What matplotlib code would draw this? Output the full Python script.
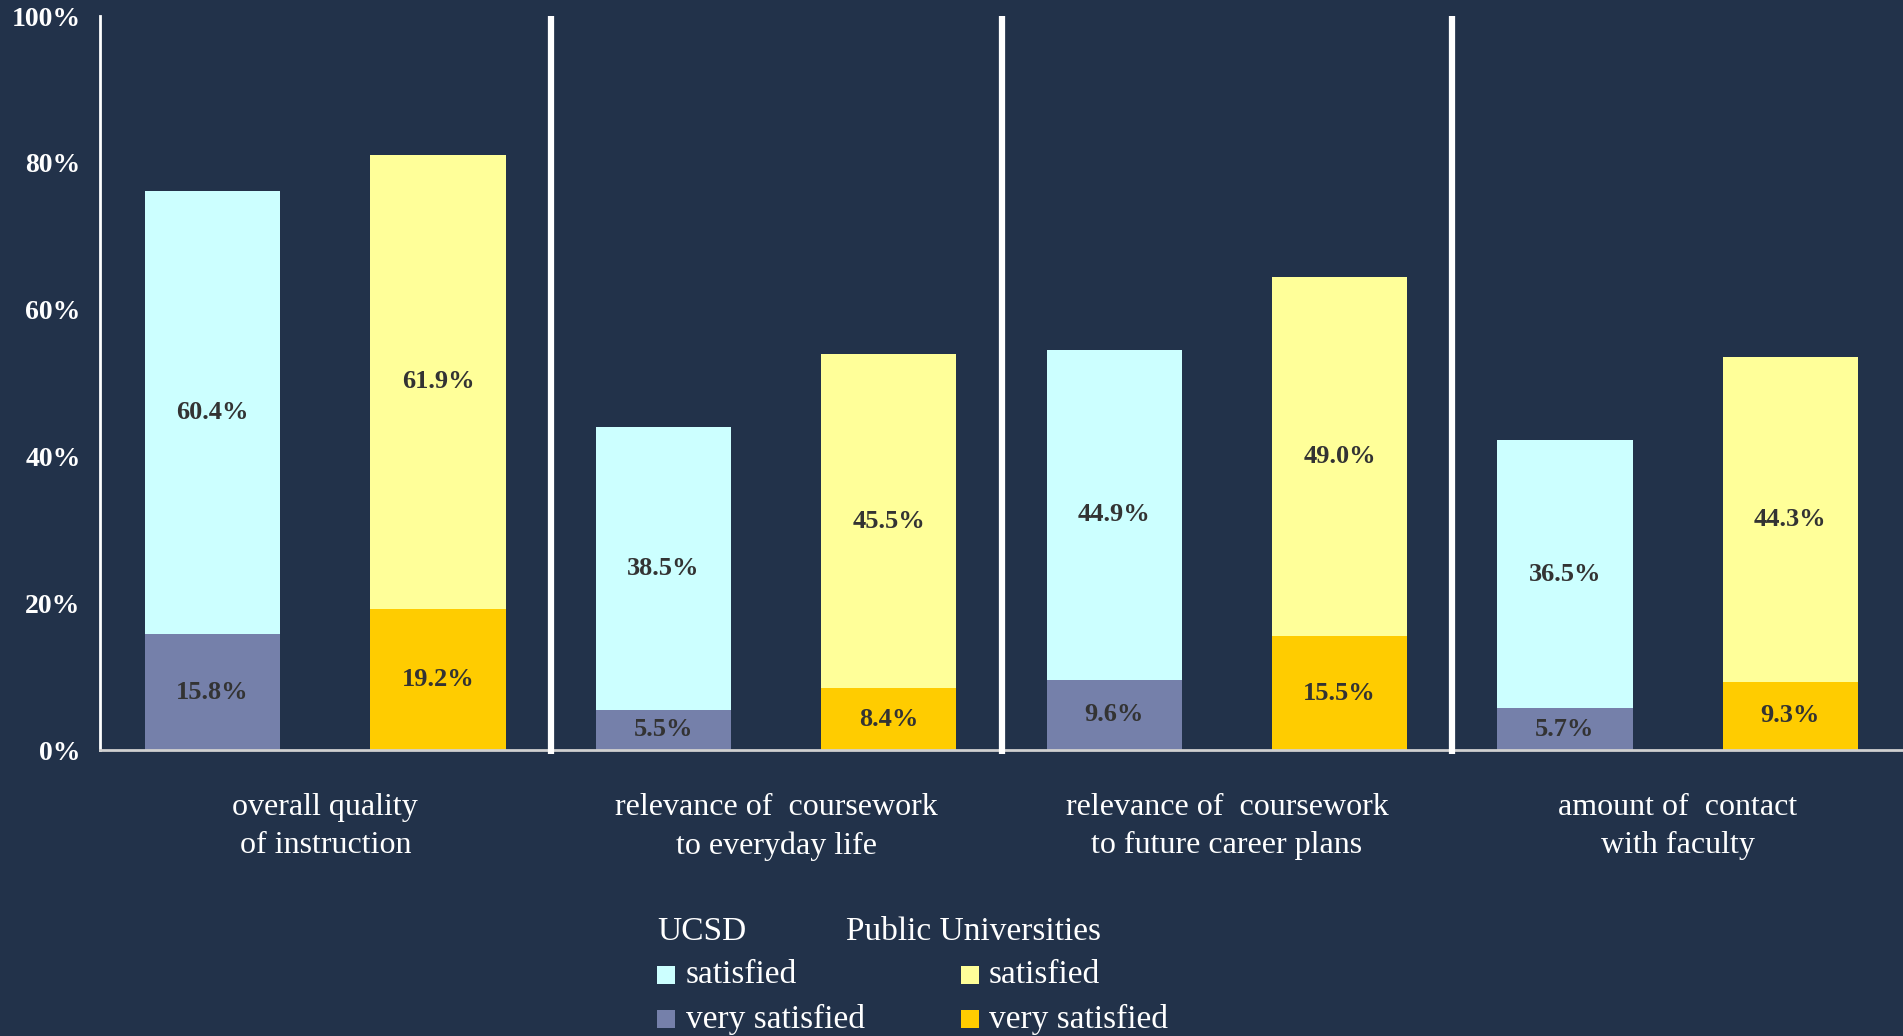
import matplotlib
matplotlib.use("Agg")
import matplotlib.pyplot as plt
from matplotlib.patches import Rectangle
import numpy as np

# ---- data ----
categories = ["overall quality\nof instruction",
              "relevance of  coursework\nto everyday life",
              "relevance of  coursework\nto future career plans",
              "amount of  contact\nwith faculty"]
ucsd_very = [15.8, 5.5, 9.6, 5.7]
ucsd_sat = [60.4, 38.5, 44.9, 36.5]
pub_very = [19.2, 8.4, 15.5, 9.3]
pub_sat = [61.9, 45.5, 49.0, 44.3]
yticks = [0, 20, 40, 60, 80, 100]
ytick_labels = ["0%", "20%", "40%", "60%", "80%", "100%"]
legend_groups = ["UCSD", "Public Universities"]
legend_items = ["satisfied", "very satisfied"]

# ---- style ----
BG = "#22324A"
C_UCSD_SAT = "#CCFFFF"
C_UCSD_VERY = "#7580AA"
C_PUB_SAT = "#FFFF99"
C_PUB_VERY = "#FFCC00"
LBL = "#333333"
FONT = ["Liberation Serif", "DejaVu Serif"]
plt.rcParams["font.family"] = FONT

W, H = 1903, 1036
fig = plt.figure(figsize=(W / 100, H / 100), dpi=100, facecolor=BG)
ax = fig.add_axes([100 / W, 1 - 750 / H, 1 - 100 / W, (750 - 16) / H])
ax.set_facecolor(BG)

x = np.arange(len(categories))
off = 0.25
bw = 0.30

ax.bar(x - off, ucsd_very, bw, color=C_UCSD_VERY, zorder=2)
ax.bar(x - off, ucsd_sat, bw, bottom=ucsd_very, color=C_UCSD_SAT, zorder=2)
ax.bar(x + off, pub_very, bw, color=C_PUB_VERY, zorder=2)
ax.bar(x + off, pub_sat, bw, bottom=pub_very, color=C_PUB_SAT, zorder=2)

def lab(xs, bottoms, vals):
    for xi, b, v in zip(xs, bottoms, vals):
        ax.text(xi, b + v / 2, f"{v:.1f}%", ha="center", va="center",
                fontsize=19, fontweight="bold", color=LBL, zorder=3)

lab(x - off, [0] * 4, ucsd_very)
lab(x - off, ucsd_very, ucsd_sat)
lab(x + off, [0] * 4, pub_very)
lab(x + off, pub_very, pub_sat)

ax.set_xlim(-0.5, len(categories) - 0.5)
ax.set_ylim(0, 100)
ax.set_yticks(yticks)
ax.set_yticklabels(ytick_labels, fontsize=20, fontweight="bold", color="white")
ax.tick_params(axis="y", length=0, pad=14)
ax.set_xticks(x)
ax.set_xticklabels(categories, fontsize=23, color="white", linespacing=1.4)
ax.tick_params(axis="x", length=0, pad=31)

for s in ["top", "right"]:
    ax.spines[s].set_visible(False)
ax.spines["left"].set_color("white")
ax.spines["left"].set_linewidth(2)
ax.spines["bottom"].set_color("#D0D0D0")
ax.spines["bottom"].set_linewidth(2)

# separators between categories
for xs in x[:-1] + 0.5:
    ax.plot([xs, xs], [-0.5, 100], color="white", lw=4.5, clip_on=False,
            zorder=4, solid_capstyle="butt")

# ---- legend ----
def fx(px):
    return px / W

def fy(py):
    return 1 - py / H

head_x = [657, 846]
sq_x = [657, 961]
txt_x = [686, 989]
head_y = 932
row_y = [975, 1019]
sq = 18
colors = [[C_UCSD_SAT, C_UCSD_VERY], [C_PUB_SAT, C_PUB_VERY]]
for g in range(2):
    fig.text(fx(head_x[g]), fy(head_y), legend_groups[g], fontsize=24,
             color="white", ha="left", va="center")
    for r in range(2):
        fig.add_artist(Rectangle((fx(sq_x[g]), fy(row_y[r] + sq / 2)),
                                 sq / W, sq / H, transform=fig.transFigure,
                                 facecolor=colors[g][r], edgecolor="none"))
        fig.text(fx(txt_x[g]), fy(row_y[r]), legend_items[r], fontsize=24,
                 color="white", ha="left", va="center")

fig.savefig("out.png", dpi=100, facecolor=BG)
